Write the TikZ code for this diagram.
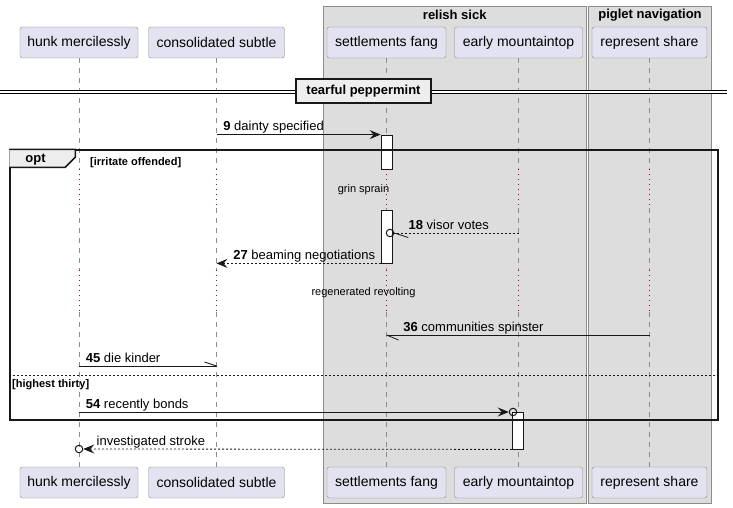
\documentclass[tikz,border=0pt]{standalone}
\usepackage{fontspec}
\setmainfont{Liberation Sans}
\usetikzlibrary{arrows.meta,positioning,calc}
\definecolor{partfill}{HTML}{E2E2F0}
\definecolor{partline}{HTML}{8A8A8A}
\definecolor{boxline}{HTML}{181818}
\definecolor{grpfill}{HTML}{DDDDDD}
\definecolor{grpline}{HTML}{8C8C8C}
\definecolor{tabfill}{HTML}{EEEEEE}
\definecolor{delayred}{HTML}{A80036}

\begin{document}
\begin{tikzpicture}[x=1pt,y=-1pt,
    every node/.style={font=\fontsize{13}{15}\selectfont},
    part/.style={draw=partline,fill=partfill,rounded corners=2.5pt,minimum height=31pt,inner sep=0pt,font=\fontsize{14}{16}\selectfont},
    grp/.style={draw=grpline,fill=grpfill},
    bold/.style={font=\bfseries\fontsize{13}{15}\selectfont},
    lifeline/.style={draw=grpline,dash pattern=on 5pt off 5pt},
    delay/.style={draw=delayred,line width=1pt,dash pattern=on 1pt off 4pt},
    actbar/.style={draw=boxline,line width=0.8pt,fill=white,minimum width=11pt,inner sep=0pt},
    msgline/.style={draw=boxline,line width=0.8pt},
    msg/.style={msgline,-{Stealth[length=11pt,width=9pt,inset=4pt]}},
    dotline/.style={msgline,dash pattern=on 2pt off 2pt},
    reply/.style={msg,dash pattern=on 2pt off 2pt},
    lblR/.style={anchor=base west,inner sep=0pt,pos=0,xshift=6.5pt,yshift=4pt},
    lblL/.style={anchor=base west,inner sep=0pt,pos=1,xshift=#1,yshift=4pt},
    lblL/.default=16.5pt,
    small/.style={font=\fontsize{11}{13}\selectfont},
    smallbold/.style={font=\bfseries\fontsize{11}{13}\selectfont},
    lost/.style={circle,draw=boxline,line width=1pt,minimum size=7.5pt,inner sep=0pt}]
  \path[use as bounding box,fill=white] (0,0) rectangle (733,508);
  % boxes
  \draw[grp] (323,6) rectangle (586.5,503);
  \draw[grp] (588.5,6) rectangle (711.5,503);
  \node[bold] (relish) at (454.75,15) {relish sick};
  \node[bold] (piglet) at (650,15) {piglet navigation};
  % participants
  \node[part,minimum width=118pt] (hunk) at (79,42.5) {hunk mercilessly};
  \node[part,minimum width=136pt] (cons) at (216.5,42.5) {consolidated subtle};
  \node[part,minimum width=119pt] (sett) at (386.5,42.5) {settlements fang};
  \node[part,minimum width=128pt] (early) at (518.5,42.5) {early mountaintop};
  \node[part,minimum width=115pt] (repr) at (649.5,42.5) {represent share};
  \node[part,minimum width=118pt] (hunk2) at (79,482.5) {hunk mercilessly};
  \node[part,minimum width=136pt] (cons2) at (216.5,482.5) {consolidated subtle};
  \node[part,minimum width=119pt] (sett2) at (386.5,482.5) {settlements fang};
  \node[part,minimum width=128pt] (early2) at (518.5,482.5) {early mountaintop};
  \node[part,minimum width=115pt] (repr2) at (649.5,482.5) {represent share};
  % lifelines with the two delays
  \coordinate (dly1s) at (0,169);
  \coordinate (dly1e) at (0,208);
  \coordinate (dly2s) at (0,270);
  \coordinate (dly2e) at (0,312);
  \foreach \p in {hunk,cons,sett,early,repr}{
    \draw[lifeline] (\p.south) -- (\p |- dly1s);
    \draw[delay] (\p |- dly1s) -- (\p |- dly1e);
    \draw[lifeline] (\p |- dly1e) -- (\p |- dly2s);
    \draw[delay] (\p |- dly2s) -- (\p |- dly2e);
    \draw[lifeline] (\p |- dly2e) -- (\p2.north);
  }
  % divider
  \coordinate (divl) at (0,92);
  \coordinate (divr) at (727,92);
  \draw[double=white,double distance=2.5pt,line width=1pt] (divl) -- (divr);
  \node[draw=boxline,line width=1.6pt,fill=tabfill,bold,minimum width=135pt,minimum height=24pt,inner sep=0pt] (div) at (363.5,91) {tearful peppermint};
  % activations
  \node[actbar,minimum height=34pt] (act1) at (386.5,152) {};
  \node[actbar,minimum height=53pt] (act2) at (386.5,236.5) {};
  \node[actbar,minimum height=37pt] (act3) at (518,430.5) {};
  % messages
  \draw[msg] (cons |- act1.north) -- (act1.north west) node[lblR] {\textbf{9} dainty specified};
  \node[small] (grin) at (363.5,190) {grin sprain};
  \node[lost] (o18) at (390,233) {};
  \draw[dotline] (early |- o18) -- (o18.east) node[lblL=14pt] {\textbf{18} visor votes};
  \draw[msgline] (o18.east) -- ++(14,4.5);
  \draw[reply] (act2.south west) -- (cons |- act2.south) node[lblL] {\textbf{27} beaming negotiations};
  \node[small] (regen) at (363.5,293) {regenerated revolting};
  \draw[msgline] (repr |- 0,335) -- (sett |- 0,335) coordinate (m36) node[lblL] {\textbf{36} communities spinster};
  \draw[msgline] (m36) -- ++(12,5);
  \draw[msgline] (hunk |- 0,366) -- (cons |- 0,366) coordinate (m45) node[lblR] {\textbf{45} die kinder};
  \draw[msgline] (m45) -- ++(-12,-4);
  \node[lost] (o54) at (513,412) {};
  \draw[msg] (hunk |- o54) -- (o54.west) node[lblR] {\textbf{54} recently bonds};
  \node[lost] (o61) at (79,449) {};
  \draw[reply] (act3.south west) -- (o61.east) node[lblL=13pt] {investigated stroke};
  % opt frame
  \node[draw=boxline,line width=1.5pt,minimum width=708pt,minimum height=270pt,inner sep=0pt] (opt) at (364,285) {};
  \draw[draw=boxline,line width=1.5pt,fill=tabfill] (opt.north west) -- ++(66,0) -- ++(0,8) -- ++(-10,10) -- ++(-56,0);
  \node[bold] (optlbl) at (35.5,159.5) {opt};
  \node[smallbold,anchor=base west,inner sep=0pt] (guard1) at (90,165) {[irritate offended]};
  \draw[dotline] (opt.west |- 0,375) -- (opt.east |- 0,375);
  \node[smallbold,anchor=base west,inner sep=0pt] (guard2) at (12,387) {[highest thirty]};
\end{tikzpicture}
\end{document}
